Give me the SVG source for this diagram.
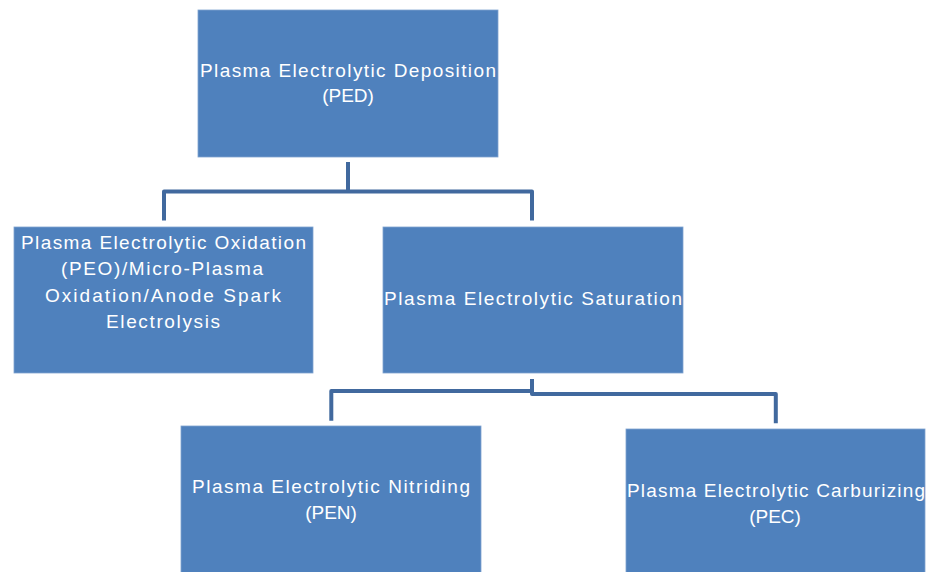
<svg xmlns="http://www.w3.org/2000/svg" width="931" height="572" viewBox="0 0 931 572">
<style>
.box{fill:#4F81BD;stroke:#7FA3D0;stroke-width:0.8}
.t{font-family:"Liberation Sans",Arial,sans-serif;font-size:19px;fill:#FFFFFF;text-anchor:middle}
.c{fill:none;stroke:#41699E;stroke-width:4;stroke-linejoin:round}
</style>
<rect width="931" height="572" fill="#FFFFFF"/>
<g id="connectors">
<path class="c" d="M348,162 V191.5 M164,220.5 V191.5 H532 V220.5"/>
<path class="c" d="M532,379 V394 H775.8 V423.3 M532,391 H331.3 V420.7"/>
</g>
<g id="ped">
<rect class="box" x="198" y="10" width="300" height="147"/>
<text class="t" x="348" y="77" textLength="296" lengthAdjust="spacing">Plasma Electrolytic Deposition</text>
<text class="t" x="348" y="102">(PED)</text>
</g>
<g id="peo">
<rect class="box" x="14" y="227" width="299" height="146"/>
<text class="t" x="163.5" y="249" textLength="285" lengthAdjust="spacing">Plasma Electrolytic Oxidation</text>
<text class="t" x="162" y="275" textLength="202" lengthAdjust="spacing">(PEO)/Micro-Plasma</text>
<text class="t" x="163" y="302" textLength="236" lengthAdjust="spacing">Oxidation/Anode Spark</text>
<text class="t" x="163" y="328" textLength="114" lengthAdjust="spacing">Electrolysis</text>
</g>
<g id="pes">
<rect class="box" x="383" y="227" width="300" height="146"/>
<text class="t" x="533" y="305" textLength="298" lengthAdjust="spacing">Plasma Electrolytic Saturation</text>
</g>
<g id="pen">
<rect class="box" x="181" y="426" width="300" height="150"/>
<text class="t" x="331" y="493" textLength="278" lengthAdjust="spacing">Plasma Electrolytic Nitriding</text>
<text class="t" x="331" y="519">(PEN)</text>
</g>
<g id="pec">
<rect class="box" x="626" y="429" width="299" height="150"/>
<text class="t" x="776" y="497" textLength="298" lengthAdjust="spacing">Plasma Electrolytic Carburizing</text>
<text class="t" x="775" y="523">(PEC)</text>
</g>
</svg>
